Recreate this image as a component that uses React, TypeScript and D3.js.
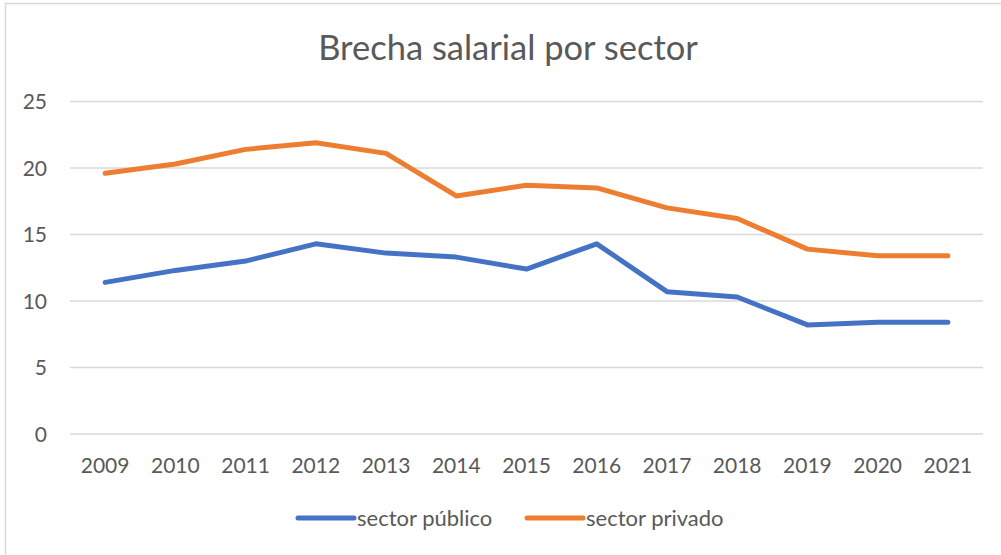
import React from "react";
import * as d3 from "d3";

const years = ["2009","2010","2011","2012","2013","2014","2015","2016","2017","2018","2019","2020","2021"];
const publico = [11.4, 12.3, 13.0, 14.3, 13.6, 13.3, 12.4, 14.3, 10.7, 10.3, 8.2, 8.4, 8.4];
const privado = [19.6, 20.3, 21.4, 21.9, 21.1, 17.9, 18.7, 18.5, 17.0, 16.2, 13.9, 13.4, 13.4];
const yTicks = [0, 5, 10, 15, 20, 25];
const seriesNames = ["sector público", "sector privado"];
const colors = ["#4472C4", "#ED7D31"];

const W = 1001, H = 555;
const FONT = "Lato, 'Open Sans', sans-serif";
const TXT = "#595959";

export default function App() {
  const x = d3.scaleBand<string>().domain(years).range([70, 983]);
  const y = d3.scaleLinear().domain([0, 25]).range([434, 101.5]);
  const line = d3.line<number>()
    .x((_, i) => (x(years[i]) as number) + x.bandwidth() / 2)
    .y((d) => y(d));
  const series = [publico, privado];
  const legendX = [298, 527];
  return (
    <svg width={W} height={H} style={{ position: "absolute", left: 0, top: 0, background: "#fff" }}>
      <rect x={5.5} y={3.5} width={1100} height={600} fill="#fff" stroke="#d9d9d9" strokeWidth={1.5} />
      <text x={508} y={59.5} textAnchor="middle" fontFamily={FONT} fontSize={34.5} fill={TXT}>
        Brecha salarial por sector
      </text>
      {yTicks.map((t) => (
        <g key={t}>
          <line x1={70} x2={983} y1={y(t)} y2={y(t)} stroke="#d9d9d9" strokeWidth={1.3} />
          <text x={47} y={y(t)} dy="0.36em" textAnchor="end" fontFamily={FONT} fontSize={21} fill={TXT}>
            {t}
          </text>
        </g>
      ))}
      {years.map((yr) => (
        <text key={yr} x={(x(yr) as number) + x.bandwidth() / 2} y={472.5} textAnchor="middle"
          fontFamily={FONT} fontSize={21} fill={TXT}>
          {yr}
        </text>
      ))}
      {series.map((s, i) => (
        <path key={i} d={line(s) || ""} fill="none" stroke={colors[i]} strokeWidth={5}
          strokeLinejoin="round" strokeLinecap="round" />
      ))}
      {seriesNames.map((n, i) => (
        <g key={n}>
          <line x1={legendX[i]} x2={legendX[i] + 56} y1={518} y2={518} stroke={colors[i]} strokeWidth={5} strokeLinecap="round" />
          <text x={legendX[i] + 59} y={525.5} fontFamily={FONT} fontSize={22} fill={TXT}>{n}</text>
        </g>
      ))}
    </svg>
  );
}
